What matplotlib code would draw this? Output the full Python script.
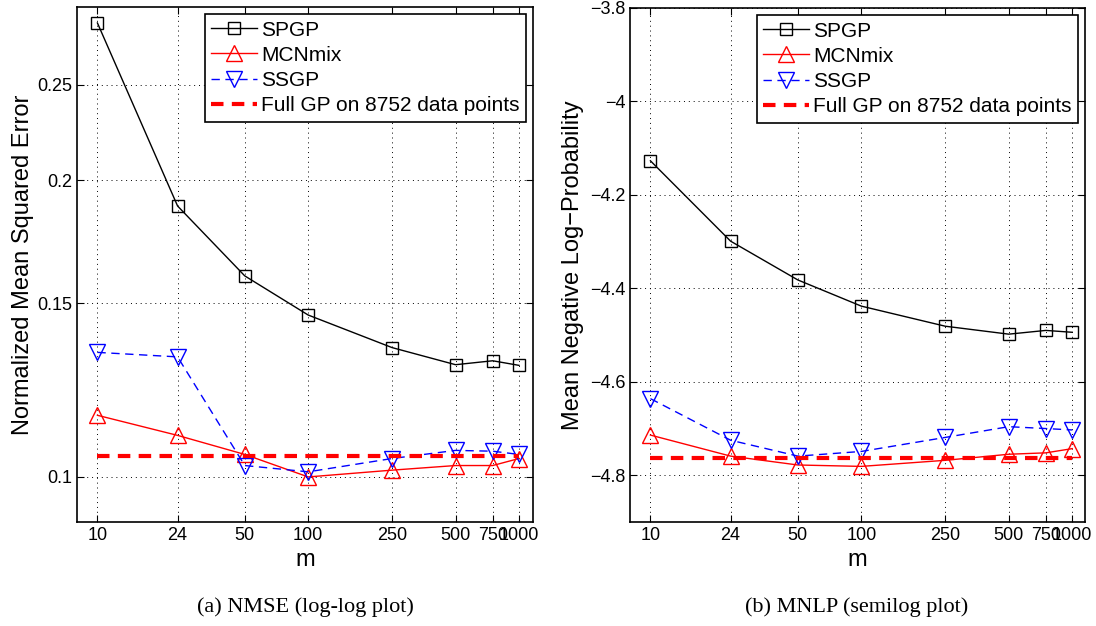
import matplotlib.pyplot as plt
from matplotlib.ticker import FixedLocator, NullLocator, FixedFormatter

plt.rcParams['font.family'] = ['Liberation Sans', 'DejaVu Sans']

# Data
m = [10, 24, 50, 100, 250, 500, 750, 1000]
xtick_labels = ['10', '24', '50', '100', '250', '500', '750', '1000']

nmse_spgp = [0.289, 0.1884, 0.160, 0.146, 0.1353, 0.130, 0.1312, 0.1298]
nmse_mcn = [0.1155, 0.1102, 0.1054, 0.1000, 0.1016, 0.1027, 0.1027, 0.1044]
nmse_ssgp = [0.1338, 0.1324, 0.1027, 0.1012, 0.1044, 0.1064, 0.1062, 0.1054]
nmse_full = 0.1050

mnlp_spgp = [-4.127, -4.299, -4.382, -4.438, -4.481, -4.498, -4.490, -4.494]
mnlp_mcn = [-4.714, -4.759, -4.778, -4.781, -4.768, -4.755, -4.752, -4.743]
mnlp_ssgp = [-4.636, -4.725, -4.759, -4.749, -4.719, -4.696, -4.700, -4.703]
mnlp_full = -4.762

fig = plt.figure(figsize=(10.96, 6.26), dpi=100)
ax1 = fig.add_axes([77/1096, 1 - 522/626, 456/1096, 515/626])
ax2 = fig.add_axes([630/1096, 1 - 522/626, 455/1096, 514/626])


def draw(ax, spgp, mcn, ssgp, full):
    ax.plot(m, spgp, '-', color='k', lw=1, marker='s', ms=9, mfc='none', mew=1, label='SPGP')
    ax.plot(m, mcn, '-', color='r', lw=1, marker='^', ms=12, mfc='none', mew=1, label='MCNmix')
    ax.plot(m, ssgp, '--', color='b', lw=1, marker='v', ms=12, mfc='none', mew=1,
            dashes=(6, 4), label='SSGP')
    ax.plot([m[0], m[-1]], [full, full], '--', color='r', lw=3, dashes=(3, 2),
            label='Full GP on 8752 data points')
    ax.set_xscale('log')
    ax.xaxis.set_major_locator(FixedLocator(m))
    ax.xaxis.set_major_formatter(FixedFormatter(xtick_labels))
    ax.xaxis.set_minor_locator(NullLocator())
    ax.grid(True, which='major', linestyle=(0, (1, 4)), color='k', lw=0.7)
    ax.tick_params(direction='in', top=True, right=True, labelsize=13, length=5)
    ax.set_xlabel('m', fontsize=17)
    for s in ax.spines.values():
        s.set_linewidth(1.2)
    leg = ax.legend(loc='upper right', fontsize=15, fancybox=False, framealpha=1,
                    edgecolor='k', borderaxespad=0.35, handlelength=2.2,
                    handletextpad=0.2, borderpad=0.3, labelspacing=0.3)
    leg.get_frame().set_linewidth(1.2)


draw(ax1, nmse_spgp, nmse_mcn, nmse_ssgp, nmse_full)
ax1.set_yscale('log')
ax1.set_xlim(8, 1165)
ax1.set_ylim(0.09, 0.3)
ax1.yaxis.set_major_locator(FixedLocator([0.1, 0.15, 0.2, 0.25]))
ax1.yaxis.set_major_formatter(FixedFormatter(['0.1', '0.15', '0.2', '0.25']))
ax1.yaxis.set_minor_locator(NullLocator())
ax1.set_ylabel('Normalized Mean Squared Error', fontsize=17, labelpad=2)

draw(ax2, mnlp_spgp, mnlp_mcn, mnlp_ssgp, mnlp_full)
ax2.set_xlim(8, 1150)
ax2.set_ylim(-4.9, -3.8)
ax2.set_yticks([-4.8, -4.6, -4.4, -4.2, -4.0, -3.8])
ax2.set_yticklabels(['\u22124.8', '\u22124.6', '\u22124.4', '\u22124.2', '\u22124', '\u22123.8'])
ax2.set_ylabel('Mean Negative Log\u2212Probability', fontsize=17)

fig.text(305/1096, 1 - 607/626, '(a) NMSE (log-log plot)', ha='center', va='center',
         fontsize=16, family='Liberation Serif')
fig.text(857/1096, 1 - 607/626, '(b) MNLP (semilog plot)', ha='center', va='center',
         fontsize=16, family='Liberation Serif')

fig.savefig('out.png', dpi=100)
